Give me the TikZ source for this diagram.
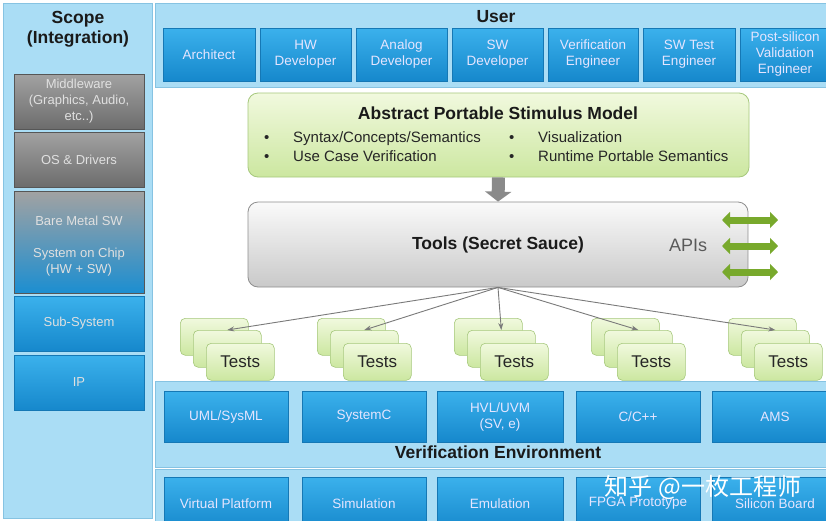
\documentclass[tikz,border=0pt]{standalone}
\usepackage{fontspec}
\setmainfont{Liberation Sans}
\newfontfamily\cjkfont{Noto Sans CJK SC}
\usetikzlibrary{arrows.meta,calc}
\definecolor{panelfill}{HTML}{AADDF5}
\definecolor{panelline}{HTML}{86C3E2}
\definecolor{bluetop}{HTML}{3BB1EC}
\definecolor{bluebot}{HTML}{1688CC}
\definecolor{blueline}{HTML}{1578B5}
\definecolor{graytop}{HTML}{A2A2A2}
\definecolor{graybot}{HTML}{6C6C6C}
\definecolor{greentop}{HTML}{F1F9DE}
\definecolor{greenbot}{HTML}{CCE7A0}
\definecolor{greenline}{HTML}{A6C87C}
\definecolor{apigreen}{HTML}{78A92C}
\definecolor{toolstop}{HTML}{FAFAFA}
\definecolor{toolsbot}{HTML}{C9C9C9}
\definecolor{toolsline}{HTML}{8E8E8E}
\definecolor{titletext}{HTML}{1A1A1A}
\definecolor{arrowgray}{HTML}{8A8A8A}
\definecolor{connline}{HTML}{7A7A7A}
\tikzset{
  panel/.style={draw=panelline, fill=panelfill, line width=0.8pt, inner sep=0pt, anchor=north west},
  bluebox/.style={top color=bluetop, bottom color=bluebot, draw=blueline, line width=0.4pt,
     text=white!90!blue, font=\fontsize{13.5}{16}\selectfont, align=center, inner sep=0pt},
  graybox/.style={top color=graytop, bottom color=graybot, draw=graybot!80!black, line width=0.4pt,
     text=white!88!black, font=\fontsize{13}{16}\selectfont, align=center, inner sep=0pt,
     minimum width=130pt, minimum height=55pt},
  testbox/.style={rounded corners=5pt, top color=greentop, bottom color=greenbot, draw=greenline,
     line width=0.6pt, minimum width=68pt, minimum height=37pt, inner sep=0pt, anchor=north west,
     font=\fontsize{17}{20}\selectfont, text=black!85},
  titletxt/.style={font=\bfseries\fontsize{17.5}{20}\selectfont, text=titletext, align=center},
  bullettxt/.style={font=\fontsize{15}{18}\selectfont, text=black!85, anchor=base west, inner sep=0pt},
  conn/.style={draw=connline, line width=0.9pt, -{Stealth[length=7pt,width=5pt]}},
  apiarrow/.style={draw=apigreen, line width=7pt, {Triangle[width=16pt,length=8pt]}-{Triangle[width=16pt,length=8pt]}},
}
\begin{document}
\begin{tikzpicture}[x=1pt,y=-1pt]
\useasboundingbox (0,0) rectangle (826,520);
\fill[white] (0,0) rectangle (826,520);

% ---------- Scope panel ----------
\node[panel, minimum width=149pt, minimum height=515pt] (scope) at (3,3) {};
\node[titletxt] (scopet) at (78,29) {Scope\\(Integration)};
\node[graybox] (mw) at (79,101.5) {Middleware\\(Graphics, Audio,\\etc..)};
\node[graybox] (os) at (79,159.5) {OS \& Drivers};
\node[graybox, minimum height=102pt, top color=graytop, middle color=bluetop!55!graybot, bottom color=bluebot!85!bluetop] (bm) at (79,242) {};
\node[text=white!88!black, font=\fontsize{13}{16}\selectfont] (bmt) at (79,221) {Bare Metal SW};
\node[text=white!88!black, font=\fontsize{13}{16}\selectfont, align=center] (soc) at (79,262.5) {System on Chip\\(HW + SW)};
\node[graybox, top color=bluetop, bottom color=bluebot, draw=blueline] (sub) at (79,323.5) {Sub-System};
\node[graybox, top color=bluetop, bottom color=bluebot, draw=blueline] (ip) at (79,382.5) {IP};

% ---------- User panel ----------
\node[panel, minimum width=680pt, minimum height=84pt] (user) at (155,3) {};
\node[titletxt] (usert) at (496,17) {User};
\foreach \n/\cx/\w/\t in {u1/209/92/Architect, u2/305.5/91/{HW\\Developer}, u3/401.5/91/{Analog\\Developer},
   u4/497.5/91/{SW\\Developer}, u5/593/90/{Verification\\Engineer}, u6/689/92/{SW Test\\Engineer},
   u7/785/90/{Post-silicon\\Validation\\Engineer}}
  \node[bluebox, minimum width=\w pt, minimum height=53pt] (\n) at (\cx,54.5) {\t};

% ---------- Abstract Portable Stimulus Model ----------
\node[rounded corners=10pt, top color=greentop, bottom color=greenbot, draw=greenline, line width=0.8pt,
      minimum width=501pt, minimum height=84pt, inner sep=0pt] (apsm) at (498.5,135) {};
\node[titletxt] (apsmt) at (498,113) {Abstract Portable Stimulus Model};
\node[bullettxt] (b1) at (264,142.5) {•};
\node[bullettxt] (b1t) at (293,142.5) {Syntax/Concepts/Semantics};
\node[bullettxt] (b2) at (264,161.5) {•};
\node[bullettxt] (b2t) at (293,161.5) {Use Case Verification};
\node[bullettxt] (b3) at (509,142.5) {•};
\node[bullettxt] (b3t) at (538,142.5) {Visualization};
\node[bullettxt] (b4) at (509,161.5) {•};
\node[bullettxt] (b4t) at (538,161.5) {Runtime Portable Semantics};

% ---------- Tools ----------
\node[rounded corners=10pt, top color=toolstop, bottom color=toolsbot, draw=toolsline, line width=0.8pt,
      minimum width=500pt, minimum height=85pt, inner sep=0pt] (tools) at (498,244.5) {};
\node[titletxt] (toolst) at (498,245) {Tools (Secret Sauce)};
\node[font=\fontsize{18}{20}\selectfont, text=black!65] (apis) at (688,245) {APIs};
\draw[draw=arrowgray, line width=13pt, -{Triangle[width=26pt,length=10pt]}] (apsm.south) -- (tools.north);

\coordinate (a1l) at (722,220); \coordinate (a1r) at (778,220);
\coordinate (a2l) at (722,246); \coordinate (a2r) at (778,246);
\coordinate (a3l) at (722,272); \coordinate (a3r) at (778,272);
\draw[apiarrow] (a1l) -- (a1r);
\draw[apiarrow] (a2l) -- (a2r);
\draw[apiarrow] (a3l) -- (a3r);

% ---------- Tests stacks ----------
\foreach \i/\bx in {1/180, 2/317, 3/454, 4/591, 5/728} {
  \node[testbox] (t\i a) at (\bx,318) {};
  \node[testbox] (t\i b) at (\bx+13,330) {};
  \node[testbox] (t\i c) at (\bx+26,343) {Tests};
  \draw[conn] (tools.south) -- (t\i b.north);
}

% ---------- Verification Environment ----------
\node[panel, minimum width=680pt, minimum height=86pt] (ve) at (155,381) {};
\foreach \n/\cx/\w/\t in {v1/226/124/{UML/SysML}, v2/364/124/SystemC, v3/500/126/{HVL/UVM\\(SV, e)},
   v4/638/124/{C/C++}, v5/775/126/AMS}
  \node[bluebox, minimum width=\w pt, minimum height=51pt] (\n) at (\cx,416.5) {\t};
\node[titletxt] (vet) at (498,452) {Verification Environment};

% ---------- Platforms ----------
\node[panel, minimum width=680pt, minimum height=60pt] (plat) at (155,469) {};
\foreach \n/\cx/\w/\t in {p1/226/124/Virtual Platform, p2/364/124/Simulation, p3/500/126/Emulation,
   p4/638/124/FPGA Prototype, p5/775/126/Silicon Board}
  \node[bluebox, minimum width=\w pt, minimum height=53pt] (\n) at (\cx,503.5) {\t};

% ---------- watermark ----------
\node[font=\cjkfont\fontsize{24}{26}\selectfont, text=white] (wm) at (703,487) {知乎 @一枚工程师};
\end{tikzpicture}
\end{document}
